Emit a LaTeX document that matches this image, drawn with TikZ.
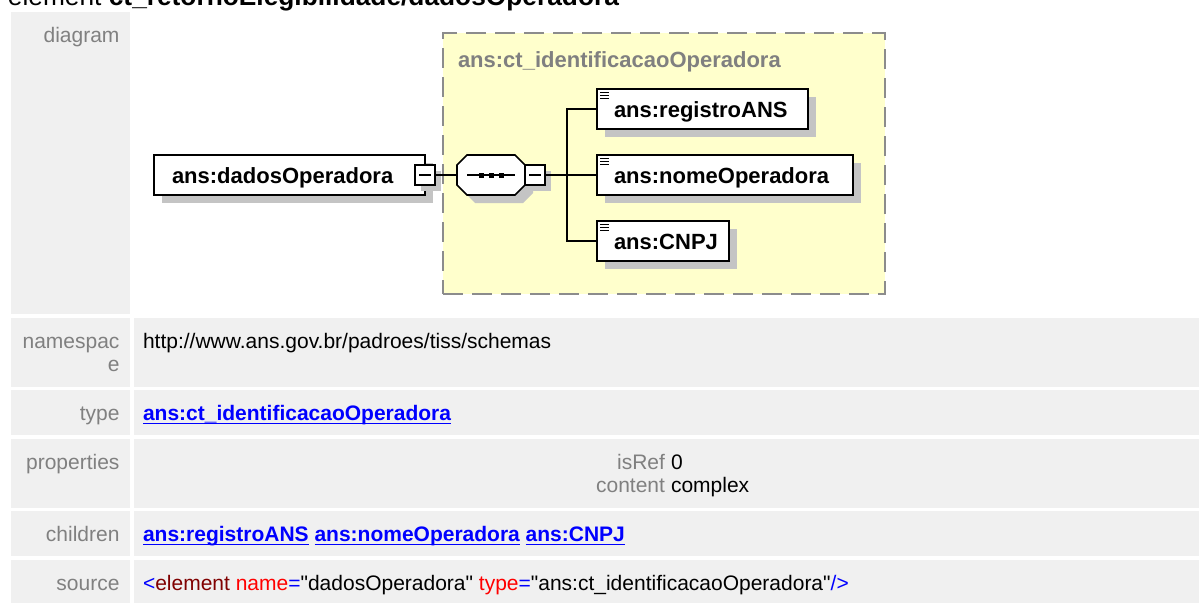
\documentclass[tikz,border=0pt]{standalone}
\usepackage{fontspec}
\setmainfont{Liberation Sans}
\newfontfamily\srcfont{Liberation Sans}
\usetikzlibrary{calc,shadows}
\definecolor{cellgray}{HTML}{F0F0F0}
\definecolor{lblgray}{HTML}{808080}
\definecolor{linkblue}{HTML}{0000FF}
\definecolor{ctyellow}{HTML}{FFFFCC}
\definecolor{ctborder}{HTML}{8C8C8C}
\definecolor{shadowgray}{HTML}{C4C4C4}
\definecolor{srcdarkred}{HTML}{800000}
\definecolor{srcred}{HTML}{FF0000}
\newcommand{\lbox}[2]{\makebox[#1][l]{#2}}
\newcommand{\sq}{{\srcfont\symbol{34}}}
\begin{document}
\begin{tikzpicture}[x=1pt,y=-1pt,
  every node/.style={inner sep=0pt, outer sep=0pt},
  lbl/.style={font=\fontsize{21}{23}\selectfont, text=lblgray, anchor=base east},
  val/.style={font=\fontsize{21}{23}\selectfont, text=black, anchor=base west},
  link/.style={font=\fontsize{21}{23}\selectfont\bfseries, text=linkblue, anchor=base west},
  uline/.style={draw=linkblue, line width=1.8pt},
  elembox/.style={draw=black, line width=1.6pt, fill=white, minimum height=40pt,
    drop shadow={shadow xshift=8pt, shadow yshift=-8pt, fill=shadowgray, draw=none, opacity=1},
    font=\fontsize{22}{24}\selectfont\bfseries, text height=16pt, text depth=0pt, inner xsep=17pt, anchor=north west},
  minusbox/.style={draw=black, line width=1.4pt, fill=white, minimum width=20pt, minimum height=20pt,
    drop shadow={shadow xshift=6pt, shadow yshift=-6pt, fill=shadowgray, draw=none, opacity=1}},
  conn/.style={draw=black, line width=1.3pt},
  ctframe/.style={draw=ctborder, dash pattern=on 20pt off 9pt, line width=2pt, fill=ctyellow, anchor=north west}
]
\clip (0,0) rectangle (1199,603);
\fill[white] (0,0) rectangle (1199,603);

% title
\node[anchor=base west, font=\fontsize{26.3}{28}\selectfont] (title) at (8,5) {element \textbf{ct\_retornoElegibilidade/dadosOperadora}};

% table cells
\fill[cellgray] (11,12) rectangle (130,314);
\fill[cellgray] (11,318) rectangle (130,387);
\fill[cellgray] (134,318) rectangle (1199,387);
\fill[cellgray] (11,390) rectangle (130,435);
\fill[cellgray] (134,390) rectangle (1199,435);
\fill[cellgray] (11,439) rectangle (130,508);
\fill[cellgray] (134,439) rectangle (1199,508);
\fill[cellgray] (11,511) rectangle (130,556);
\fill[cellgray] (134,511) rectangle (1199,556);
\fill[cellgray] (11,560) rectangle (130,603);
\fill[cellgray] (134,560) rectangle (1199,603);

% labels
\node[lbl] (ldiagram) at (119.5,42) {diagram};
\node[lbl] (lns1) at (119.5,348) {namespac};
\node[lbl] (lns2) at (119.5,371) {e};
\node[lbl] (ltype) at (119.5,420) {type};
\node[lbl] (lprops) at (119.5,469) {properties};
\node[lbl] (lchildren) at (119.5,541) {children};
\node[lbl] (lsource) at (119.5,590) {source};

% values
\node[val] (vns) at (143,348) {http://www.ans.gov.br/padroes/tiss/schemas};
\node[link] (vtype) at (143,420) {ans:ct\_identificacaoOperadora};
\draw[uline] ($(vtype.base west)+(0,3.5)$) -- ($(vtype.base east)+(0,3.5)$);

\node[lbl] (pisref) at (665,469) {isRef};
\node[val] (visref) at (671,469) {0};
\node[lbl] (pcontent) at (665,492) {content};
\node[val] (vcontent) at (671,492) {complex};

\node[link] (c1) at (143,541) {ans:registroANS};
\node[link, anchor=base west] (c2) at ($(c1.base east)+(5.8,0)$) {ans:nomeOperadora};
\node[link, anchor=base west] (c3) at ($(c2.base east)+(5.8,0)$) {ans:CNPJ};
\foreach \c in {c1,c2,c3}
  \draw[uline] ($(\c.base west)+(0,3.5)$) -- ($(\c.base east)+(0,3.5)$);

\node[val, font=\fontsize{21}{23}\srcfont] (vsource) at (143,590) {\textcolor{linkblue}{<}\textcolor{srcdarkred}{element} \textcolor{srcred}{name}\textcolor{linkblue}{=}"dadosOperadora" \textcolor{srcred}{type}\textcolor{linkblue}{=}"ans:ct\_identificacaoOperadora"\textcolor{linkblue}{/>}};

% diagram: complex type frame
\node[ctframe, minimum width=442pt, minimum height=261pt] (ct) at (443,33) {};
\node[anchor=base west, font=\fontsize{22}{24}\selectfont\bfseries, text=lblgray] (ctlabel) at (458,67) {ans:ct\_identificacaoOperadora};

% element dadosOperadora
\node[elembox, inner xsep=18pt] (dados) at (154,155) {\lbox{235pt}{ans:dadosOperadora}};
\node[minusbox] (dadosminus) at (425,175) {};
\draw[line width=1.2pt] ($(dadosminus.center)+(-6,0)$) -- ($(dadosminus.center)+(6,0)$);

% sequence compositor
\node[minimum width=68pt, minimum height=40pt] (seq) at (491,175) {};
\fill[shadowgray] ($(seq.north west)+(18,8)$) -- ($(seq.north east)+(-2,8)$) -- ($(seq.north east)+(8,18)$)
  -- ($(seq.south east)+(8,-2)$) -- ($(seq.south east)+(-2,8)$) -- ($(seq.south west)+(18,8)$)
  -- ($(seq.south west)+(8,-2)$) -- ($(seq.north west)+(8,18)$) -- cycle;
\draw[line width=1.6pt, fill=white] ($(seq.north west)+(10,0)$) -- ($(seq.north east)+(-10,0)$) -- ($(seq.north east)+(0,10)$)
  -- ($(seq.south east)+(0,-10)$) -- ($(seq.south east)+(-10,0)$) -- ($(seq.south west)+(10,0)$)
  -- ($(seq.south west)+(0,-10)$) -- ($(seq.north west)+(0,10)$) -- cycle;
\draw[line width=1.3pt] ($(seq.center)+(-24,0)$) -- ($(seq.center)+(24,0)$);
\foreach \dx in {-10,0,10}
  \fill ($(seq.center)+(\dx-2.5,-2.5)$) rectangle ($(seq.center)+(\dx+2.5,2.5)$);
\node[minusbox] (seqminus) at (535,175) {};
\draw[line width=1.2pt] ($(seqminus.center)+(-6,0)$) -- ($(seqminus.center)+(6,0)$);

% children
\coordinate (spine) at (567,175);
\draw[conn] (dadosminus.east) -- (seq.west);
\draw[conn] (seqminus.east) -- (spine);

\node[elembox] (reg) at (597,89) {\lbox{177pt}{ans:registroANS}};
\node[elembox] (nome) at (597,155) {\lbox{222pt}{ans:nomeOperadora}};
\node[elembox] (cnpj) at (597,221) {\lbox{98pt}{ans:CNPJ}};

\draw[conn] (reg.west) -| (spine) |- (cnpj.west);
\draw[conn] (spine) -- (nome.west);

\foreach \n in {reg,nome,cnpj}
  \foreach \d in {3.5,6.5,9.5}
    \draw[line width=1.1pt] ($(\n.north west)+(3,\d)$) -- ++(9,0);
\end{tikzpicture}
\end{document}
